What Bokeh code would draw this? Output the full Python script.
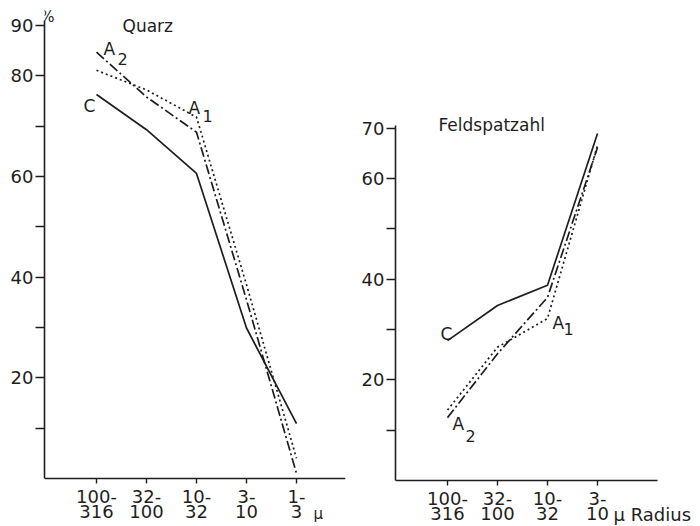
from bokeh.plotting import figure
from bokeh.layouts import row
from bokeh.models import FixedTicker, Label, Range1d
from bokeh.embed import file_html
from bokeh.resources import INLINE

# ---------------- data ----------------
quarz_classes = ["100-\n316", "32-\n100", "10-\n32", "3-\n10", "1-\n3"]
quarz_C = [76.3, 69.3, 60.6, 29.9, 10.9]
quarz_A1 = [81.1, 77.2, 71.8, 38.5, 4.0]
quarz_A2 = [84.7, 75.8, 68.8, 35.5, 1.0]
quarz_yticks = [10, 20, 30, 40, 50, 60, 70, 80, 90]
quarz_ylabels = ["", "20", "", "40", "", "60", "", "80", "90"]

feld_classes = ["100-\n316", "32-\n100", "10-\n32", "3-\n10"]
feld_C = [27.8, 34.8, 38.8, 69.0]
feld_A1 = [14.0, 26.5, 32.2, 66.6]
feld_A2 = [12.5, 25.2, 36.4, 66.2]
feld_yticks = [10, 20, 30, 40, 50, 60, 70]
feld_ylabels = ["", "20", "", "40", "", "60", "70"]

INK = "#1e1e1e"
FONT = "DejaVu Sans"


def make_panel(width, xr, xbound, yr, ybound, classes, yticks, ylabels, bl, br):
    p = figure(width=width, height=526, output_backend="svg", toolbar_location=None,
               x_range=Range1d(*xr), y_range=Range1d(*yr),
               min_border_left=bl, min_border_right=br, min_border_top=0,
               min_border_bottom=0)
    p.outline_line_color = None
    p.grid.visible = False
    p.background_fill_color = "white"
    p.border_fill_color = "white"
    xs = list(range(len(classes)))
    p.xaxis.ticker = FixedTicker(ticks=xs)
    p.xaxis.major_label_overrides = {i: c for i, c in zip(xs, classes)}
    p.xaxis.fixed_location = 0
    p.xaxis.bounds = xbound
    p.yaxis.ticker = FixedTicker(ticks=yticks)
    p.yaxis.major_label_overrides = {t: l for t, l in zip(yticks, ylabels)}
    p.yaxis.bounds = (0, ybound)
    for ax in (p.xaxis, p.yaxis):
        ax.axis_line_color = INK
        ax.axis_line_width = 1.6
        ax.major_tick_line_color = INK
        ax.major_tick_line_width = 1.4
        ax.minor_tick_line_color = None
        ax.major_tick_in = 0
        ax.major_label_text_font = FONT
        ax.major_label_text_font_size = "18px"
        ax.major_label_text_color = INK
    p.yaxis.major_tick_out = 9
    p.yaxis.major_label_standoff = 2
    p.xaxis.major_tick_out = 5
    p.xaxis.major_label_standoff = 3
    p.xaxis.major_label_text_line_height = 0.71
    return p


def series(p, xs, ys, dash):
    p.line(xs, ys, line_color=INK, line_width=1.7, line_dash=dash)


def lab(p, x, y, t, size="16px", align="left"):
    p.add_layout(Label(x=x, y=y, text=t, text_font=FONT, text_font_size=size,
                       text_color=INK, text_align=align, text_baseline="alphabetic"))


# ---------------- Quarz ----------------
left = make_panel(350, (-1.04, 4.98), (-1.04, 4.98), (-9.54, 94.97), 91, quarz_classes,
                  quarz_yticks, quarz_ylabels, 44, 5)
qx = list(range(len(quarz_classes)))
series(left, qx, quarz_C, "solid")
series(left, qx, quarz_A1, "2 3")
series(left, qx, quarz_A2, "10 3 2 3")
lab(left, -0.98, 91.6, "%", "15px", "center")
lab(left, 0.52, 90.0, "Quarz", "17px")
lab(left, -0.26, 74.1, "C", "17px")
lab(left, 0.14, 85.4, "A", "17px")
lab(left, 0.42, 83.4, "2", "16px")
lab(left, 1.84, 73.7, "A", "17px")
lab(left, 2.12, 72.1, "1", "16px")
lab(left, 4.34, -7.15, "μ", "15px")

# ---------------- Feldspatzahl ----------------
right = make_panel(350, (-1.04, 5.06), (-1.04, 4.2), (-9.15, 95.43), 70.6, feld_classes,
                   feld_yticks, feld_ylabels, 45, 0)
fx = list(range(len(feld_classes)))
series(right, fx, feld_C, "solid")
series(right, fx, feld_A1, "2 3")
series(right, fx, feld_A2, "10 3 2 3")
lab(right, -0.18, 70.6, "Feldspatzahl", "17px")
lab(right, -0.14, 29.2, "C", "17px")
lab(right, 2.10, 31.4, "A", "17px")
lab(right, 2.32, 30.2, "1", "16px")
lab(right, 0.10, 11.3, "A", "17px")
lab(right, 0.36, 8.9, "2", "16px")
lab(right, 3.32, -6.76, "μ\u00a0Radius", "18px")

layout = row(left, right)
open("out.html", "w").write(file_html(layout, INLINE))
